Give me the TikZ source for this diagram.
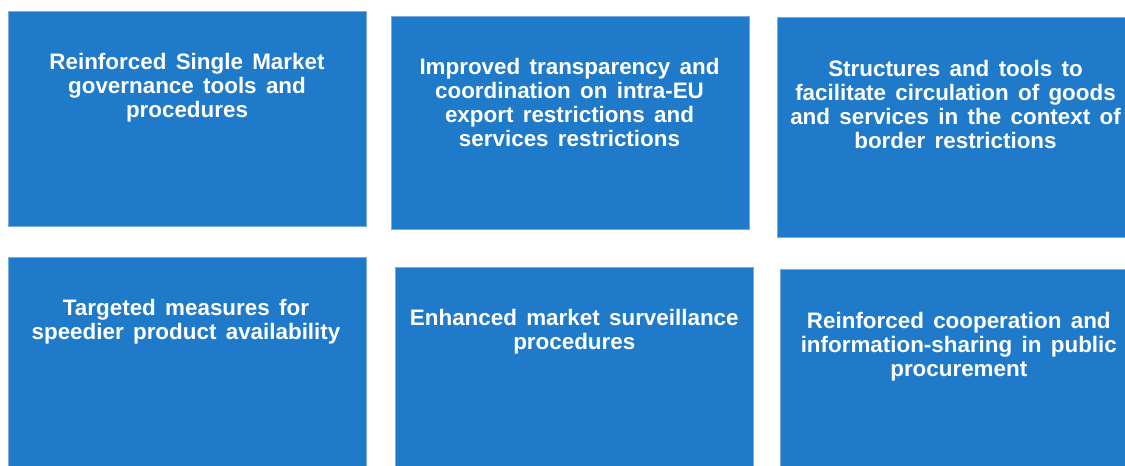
\documentclass[tikz,border=0pt]{standalone}
\usepackage{fontspec}
\setmainfont{Liberation Sans}[WordSpace=1.5]
\definecolor{boxblue}{RGB}{31,123,201}
\definecolor{boxedge}{RGB}{120,170,220}
\begin{document}
\begin{tikzpicture}[x=1pt,y=1pt,
  panel/.style={draw=boxedge,line width=0.8pt,fill=boxblue,rectangle,anchor=north west,inner sep=0pt},
  label/.style={anchor=north,inner sep=0pt,text=white,align=center,font=\fontsize{22.4}{24}\selectfont\bfseries}]
\useasboundingbox (0,0) rectangle (1125,466);
\node[panel,minimum width=357.5,minimum height=215] (b1) at (8,455) {};
\node[panel,minimum width=357.5,minimum height=213] (b2) at (391,450) {};
\node[panel,minimum width=352,minimum height=220] (b3) at (777,449) {};
\node[panel,minimum width=357.5,minimum height=212] (b4) at (8,208.5) {};
\node[panel,minimum width=357.4,minimum height=203] (b5) at (395.3,199.3) {};
\node[panel,minimum width=350,minimum height=201] (b6) at (780.3,197.3) {};
\node[label] (t1) at (187,412.7) {Reinforced Single Market\\governance tools and\\procedures};
\node[label] (t2) at (569.5,407.7) {Improved transparency and\\coordination on intra-EU\\export restrictions and\\services restrictions};
\node[label] (t3) at (955.5,406) {Structures and tools to\\facilitate circulation of goods\\and services in the context of\\border restrictions};
\node[label] (t4) at (186,167) {Targeted measures for\\speedier product availability};
\node[label] (t5) at (574.3,157) {Enhanced market surveillance\\procedures};
\node[label] (t6) at (958.8,154.3) {Reinforced cooperation and\\information-sharing in public\\procurement};
\end{tikzpicture}
\end{document}
